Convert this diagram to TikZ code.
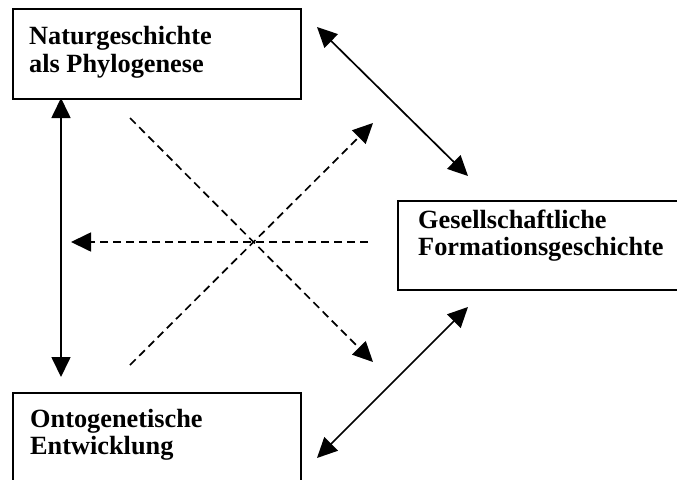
\documentclass[tikz,border=0pt]{standalone}
\usepackage{fontspec}
\setmainfont{Liberation Serif}
\usetikzlibrary{arrows.meta}
\begin{document}
\begin{tikzpicture}[x=1pt,y=-1pt,
  boxshape/.style={draw, line width=2pt, anchor=north west, inner sep=0pt},
  lbl/.style={anchor=base west, inner sep=0pt, font=\fontsize{26.3}{27.5}\selectfont\bfseries},
  tip/.style={-{Triangle[length=20pt,width=19pt]}},
  dbl/.style={{Triangle[length=20pt,width=19pt]}-{Triangle[length=20pt,width=19pt]}, line width=1.7pt},
  dsh/.style={tip, line width=1.7pt, dash pattern=on 8pt off 5pt}]
\useasboundingbox (0,0) rectangle (677,479);
\clip (0,0) rectangle (677,479);
% boxes
\node[boxshape, minimum width=288pt, minimum height=90pt] (natur) at (12,8) {};
\node[boxshape, minimum width=288pt, minimum height=120pt] (onto) at (12,392) {};
\node[boxshape, minimum width=300pt, minimum height=89pt] (gesell) at (397,200) {};
% labels
\node[lbl] (naturA) at (29,44) {Naturgeschichte};
\node[lbl] (naturB) at (29,72) {als Phylogenese};
\node[lbl] (ontoA) at (30,427) {Ontogenetische};
\node[lbl] (ontoB) at (30,454) {Entwicklung};
\node[lbl] (gesellA) at (418,228) {Gesellschaftliche};
\node[lbl] (gesellB) at (418,255) {Formationsgeschichte};
% connector end points
\coordinate (v1) at (61,98);
\coordinate (v2) at (61,377);
\coordinate (d1a) at (130,118);
\coordinate (d1b) at (373,362);
\coordinate (d2a) at (130,365);
\coordinate (d2b) at (373,123);
\coordinate (ha) at (368,242);
\coordinate (hb) at (71,242);
\coordinate (u1) at (317,27);
\coordinate (u2) at (468,176);
\coordinate (l1) at (468,307);
\coordinate (l2) at (317,458);
% connectors
\draw[dbl] (v1) -- (v2);
\draw[dbl] (u1) -- (u2);
\draw[dbl] (l1) -- (l2);
\draw[dsh] (d1a) -- (d1b);
\draw[dsh] (d2a) -- (d2b);
\draw[dsh] (ha) -- (hb);
\end{tikzpicture}
\end{document}
